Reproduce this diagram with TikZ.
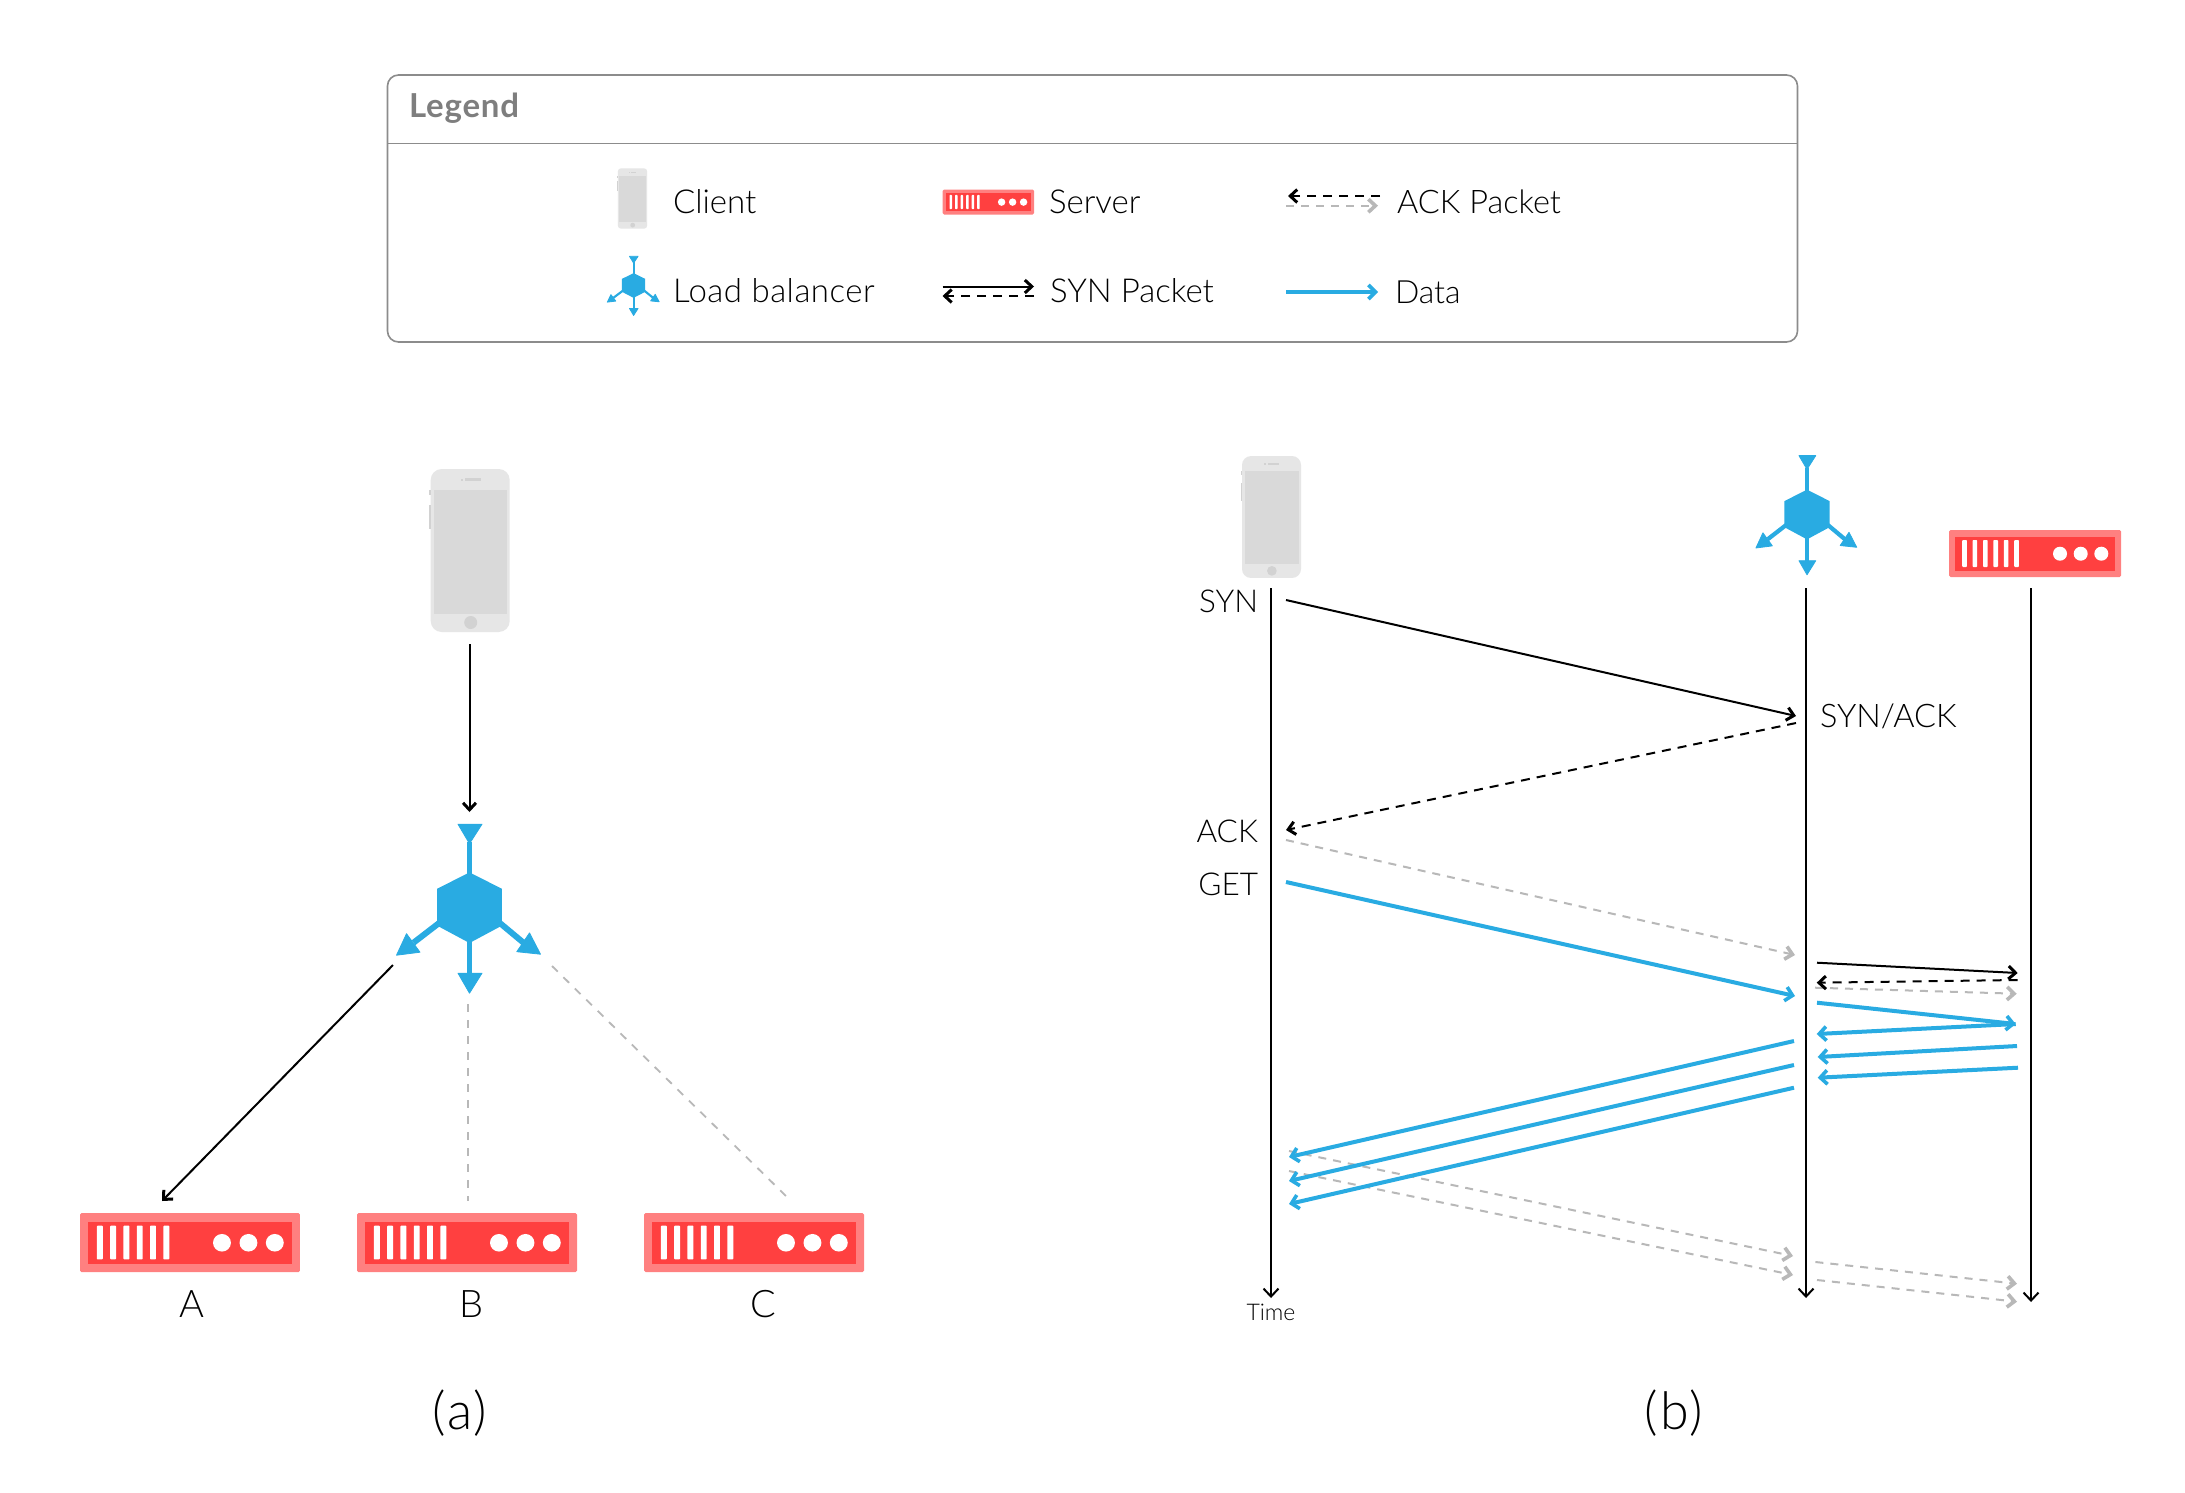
\documentclass[tikz,border=0pt]{standalone}
\usepackage{fontspec}
\usetikzlibrary{arrows.meta}
\setmainfont{Lato Light}
\newfontfamily\titlefont{Lato}
\definecolor{lbblue}{HTML}{29ABE2}
\definecolor{srvred}{HTML}{FF4040}
\definecolor{srvrim}{HTML}{FF8080}
\definecolor{phbody}{HTML}{E6E6E6}
\definecolor{phscreen}{HTML}{D9D9D9}
\definecolor{phbtn}{HTML}{D2D2D2}
\definecolor{dashgrey}{HTML}{B8B8B8}
\definecolor{framegrey}{HTML}{8C8C8C}
\newcommand\phoneicon[5]{%
\begin{scope}[shift={(#1,#2)},xscale=#3,yscale=#4]
\fill[phbody,rounded corners=#5] (-39.5,-81.5) rectangle (39.5,81.5);
\fill[phscreen] (-36,-61) rectangle (37,63);
\fill[phbtn] (0.5,72) ellipse (6.5 and 6.5);
\fill[phbtn] (-5,-72.5) rectangle (10.5,-69.5);
\fill[phbtn] (-9.5,-72) rectangle (-7,-70);
\fill[phbtn] (-41.5,-61) rectangle (-39.5,-55.5);
\fill[phbtn] (-41.5,-46) rectangle (-39.5,-21.5);
\end{scope}}
\newcommand\hubicon[4]{%
\begin{scope}[shift={(#1,#2)},xscale=#3,yscale=#4,lbblue,line join=round]
\fill (0,-35.3) -- (32.3,-19) -- (32.3,18) -- (0,35.3) -- (-32.3,18) -- (-32.3,-19) -- cycle;
\fill (-2.9,-66) rectangle (2.9,-33);
\fill (-2.9,33) rectangle (2.9,67);
\filldraw[line width=0.8pt] (-11.5,-83.5) -- (12.5,-83.5) -- (0,-64) -- cycle;
\filldraw[line width=0.8pt] (-11.5,65.5) -- (12.5,65.5) -- (0,85.5) -- cycle;
\filldraw[line width=0.8pt] (-73,47.5) -- (-63,26) -- (-49.5,44.5) -- cycle;
\filldraw[line width=0.8pt] (71,46.5) -- (60,25.2) -- (47.3,44) -- cycle;
\fill (-31.8,12.6) -- (-28.2,17.4) -- (-54.2,37.4) -- (-57.8,32.6) -- cycle;
\fill (31.8,12.6) -- (28.2,17.4) -- (52.2,37.4) -- (55.8,32.6) -- cycle;
\end{scope}}
\newcommand\servericon[4]{%
\begin{scope}[shift={(#1,#2)},xscale=#3,yscale=#4]
\fill[srvrim,rounded corners=1.5pt] (-86,-23.5) rectangle (86,23.5);
\fill[srvred] (-80,-16.5) rectangle (80,17.5);
\foreach \k in {0,...,5}{\fill[white,rounded corners=0.8pt] ({-72.8+10.4*\k},-13.5) rectangle ({-68.2+10.4*\k},13.5);}
\foreach \c in {25,45.7,66.3}{\fill[white] (\c,0.2) circle (7);}
\end{scope}}
\tikzset{
 every node/.style={inner sep=0pt,outer sep=0pt,text=black},
 lbl/.style={font=\fontsize{33}{38}\selectfont},
 sidelbl/.style={font=\fontsize{31.5}{36}\selectfont},
 blk/.style={draw=black,line width=2pt,-{Straight Barb[length=7pt,width=13pt,line width=3pt]}},
 life/.style={draw=black,line width=2pt,-{Straight Barb[length=8pt,width=15pt,line width=2pt]}},
 blkd/.style={blk,dash pattern=on 9pt off 7pt},
 gry/.style={draw=dashgrey,line width=2pt,dash pattern=on 8pt off 7pt,-{Straight Barb[length=7pt,width=13pt,line width=3.6pt]}},
 gryp/.style={draw=dashgrey,line width=1.8pt,dash pattern=on 8pt off 8pt},
 blu/.style={draw=lbblue,line width=4pt,-{Straight Barb[length=7pt,width=14pt,line width=3.6pt]}},
}
\begin{document}
\begin{tikzpicture}[x=1pt,y=-1pt]
\useasboundingbox (0,0) rectangle (2185,1492);
\fill[white] (0,0) rectangle (2185,1492);
% legend
\draw[framegrey,line width=1.6pt,rounded corners=11pt] (387.5,75) rectangle (1797.5,342);
\coordinate (dl) at (387.5,143.5); \coordinate (dr) at (1797.5,143.5);
\draw[framegrey,line width=1.6pt] (dl) -- (dr);
\node[anchor=base west,font=\fontsize{33}{38}\selectfont\titlefont\bfseries\addfontfeature{LetterSpace=2.5},text=framegrey!90!black] (legendtitle) at (409,117.5) {Legend};
\phoneicon{632.5}{198.5}{0.37}{0.37}{3pt}
\hubicon{633.6}{285.5}{0.36}{0.35}
\servericon{988.3}{202}{0.532}{0.532}
\node[lbl,anchor=base west] (tclient) at (673,213) {Client};
\node[lbl,anchor=base west,font=\fontsize{33}{38}\selectfont\addfontfeature{LetterSpace=1.5}] (tlb) at (673,302.5) {Load balancer};
\node[lbl,anchor=base west] (tserver) at (1049,213) {Server};
\node[lbl,anchor=base west] (tsyn) at (1050,302.5) {SYN Packet};
\node[lbl,anchor=base west,font=\fontsize{32.5}{38}\selectfont] (tack) at (1397,213.5) {ACK Packet};
\node[lbl,anchor=base west,font=\fontsize{32}{38}\selectfont] (tdata) at (1395,303.5) {Data};
\coordinate (la1) at (942.5,286.5); \coordinate (la2) at (1034,286.5);
\coordinate (la3) at (1034,296); \coordinate (la4) at (942.5,296);
\coordinate (la5) at (1380,196); \coordinate (la6) at (1288,196);
\coordinate (la7) at (1286,205.7); \coordinate (la8) at (1378,205.7);
\coordinate (la9) at (1286,292); \coordinate (la10) at (1378,292);
\draw[blk] (la1) -- (la2);
\draw[blkd] (la3) -- (la4);
\draw[blkd] (la5) -- (la6);
\draw[gry] (la7) -- (la8);
\draw[blu] (la9) -- (la10);
\begin{scope}[shift={(0,1)}]
% panel a
\phoneicon{470.2}{549.5}{1}{1}{11pt}
\hubicon{469.5}{906.7}{1}{1}
\servericon{190}{1241.5}{1.279}{1.255}
\servericon{467}{1241.5}{1.279}{1.255}
\servericon{754}{1241.5}{1.279}{1.255}
\node[font=\fontsize{38}{44}\selectfont,anchor=base] (labA) at (192,1316) {A};
\node[font=\fontsize{38}{44}\selectfont,anchor=base] (labB) at (472,1316) {B};
\node[font=\fontsize{38}{44}\selectfont,anchor=base] (labC) at (763,1316) {C};
\node[font=\fontsize{52}{58}\selectfont\addfontfeature{LetterSpace=4},anchor=base] (capa) at (460,1428) {(a)};
\coordinate (a1) at (469.5,643); \coordinate (a2) at (469.5,811);
\coordinate (a3) at (393,964); \coordinate (a4) at (162,1200);
\coordinate (a5) at (468,1003); \coordinate (a6) at (468,1200);
\coordinate (a7) at (552,965); \coordinate (a8) at (787,1196);
\draw[blk] (a1) -- (a2);
\draw[blk] (a3) -- (a4);
\draw[gryp] (a5) -- (a6);
\draw[gryp] (a7) -- (a8);
% panel b
\phoneicon{1271.5}{516}{0.747}{0.748}{9pt}
\hubicon{1807}{513.5}{0.70}{0.705}
\servericon{2035}{552.5}{1}{1}
\coordinate (c0) at (1271,587); \coordinate (c1) at (1271,1297);
\coordinate (l0) at (1806,587); \coordinate (l1) at (1806,1297);
\coordinate (s0) at (2031,587); \coordinate (s1) at (2031,1301);
\draw[life] (c0) -- (c1);
\draw[life] (l0) -- (l1);
\draw[life] (s0) -- (s1);
\node[font=\fontsize{23}{27}\selectfont,anchor=base] (ttime) at (1271,1319) {Time};
\node[sidelbl,anchor=base east] (tSYN) at (1258,611) {SYN};
\node[sidelbl,anchor=base east] (tACK) at (1258,841) {ACK};
\node[sidelbl,anchor=base east] (tGET) at (1258,894) {GET};
\node[sidelbl,anchor=base west,font=\fontsize{32.5}{38}\selectfont] (tSA) at (1820,726) {SYN/ACK};
\node[font=\fontsize{52}{58}\selectfont\addfontfeature{LetterSpace=4},anchor=base] (capb) at (1674,1428) {(b)};
\coordinate (b1) at (1286,599); \coordinate (b2) at (1796,715);
\coordinate (b3) at (1796,722); \coordinate (b4) at (1286,829);
\coordinate (b5) at (1286,839); \coordinate (b6) at (1795,954);
\coordinate (b7) at (1286,881); \coordinate (b8) at (1795,995);
\coordinate (b9) at (1817,961.7); \coordinate (b10) at (2017.7,972);
\coordinate (b11) at (2017.7,979); \coordinate (b12) at (1816.7,981.7);
\coordinate (b13) at (1815,986.7); \coordinate (b14) at (2016.7,992.7);
\coordinate (b15) at (1817,1001.7); \coordinate (b16) at (2015.7,1023);
\coordinate (b17) at (2015.7,1023); \coordinate (b18) at (1816.7,1033);
\coordinate (b19) at (2017,1045); \coordinate (b20) at (1817.7,1056);
\coordinate (b21) at (2018,1066.7); \coordinate (b22) at (1817.7,1076.7);
\coordinate (b23) at (1794,1040); \coordinate (b24) at (1289,1156);
\coordinate (b25) at (1794,1064); \coordinate (b26) at (1289,1180);
\coordinate (b27) at (1794,1086.7); \coordinate (b28) at (1289,1203);
\coordinate (b29) at (1289,1150); \coordinate (b30) at (1793,1255);
\coordinate (b31) at (1289,1170); \coordinate (b32) at (1793,1274);
\coordinate (b33) at (1815.4,1261); \coordinate (b34) at (2017,1282.7);
\coordinate (b35) at (1817,1279); \coordinate (b36) at (2017,1300.7);
\draw[blk] (b1) -- (b2);
\draw[blkd] (b3) -- (b4);
\draw[gry] (b5) -- (b6);
\draw[blu] (b7) -- (b8);
\draw[blk] (b9) -- (b10);
\draw[gry] (b13) -- (b14);
\draw[blkd] (b11) -- (b12);
\draw[blu] (b15) -- (b16);
\draw[blu] (b17) -- (b18);
\draw[blu] (b19) -- (b20);
\draw[blu] (b21) -- (b22);
\draw[gry] (b29) -- (b30);
\draw[gry] (b31) -- (b32);
\draw[blu] (b23) -- (b24);
\draw[blu] (b25) -- (b26);
\draw[blu] (b27) -- (b28);
\draw[gry] (b33) -- (b34);
\draw[gry] (b35) -- (b36);
\end{scope}
\end{tikzpicture}
\end{document}
